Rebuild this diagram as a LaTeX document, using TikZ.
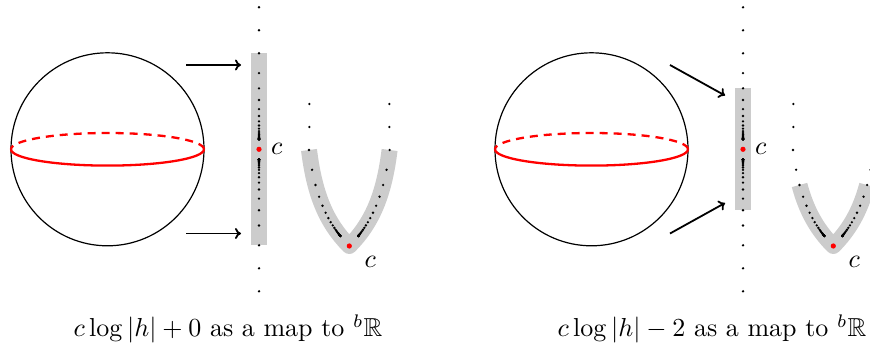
\documentclass[tikz,border=0pt]{standalone}
\usepackage{amssymb}
\usetikzlibrary{arrows.meta}
\tikzset{
  band/.style={line width=16pt, draw=black!20, line cap=butt, line join=round},
  sphere/.style={line width=1.2pt},
  equator/.style={draw=red, line width=2.3pt},
  backeq/.style={equator, dash pattern=on 8pt off 6pt},
  arr/.style={line width=1.8pt, -{To[length=6pt,width=11pt]}},
  lbl/.style={inner sep=0pt, scale=2.6},
}
\newcommand\drawpanel[7]{%
\begin{scope}[shift={(#1,0)}, name prefix=#7-]
  % sphere
  \draw[sphere] (107.5,149.3) circle[radius=96.5];
  \draw[equator] (204,149.3) arc[start angle=0, end angle=180, x radius=96.5, y radius=16.3];
  \draw[backeq] (204,149.3) arc[start angle=0, end angle=-180, x radius=96.5, y radius=16.3];
  % arrows
  \coordinate (a1s) at (186,65);
  \coordinate (a1e) at (241,#4);
  \coordinate (a2s) at (186,233.5);
  \coordinate (a2e) at (241,#5);
  \draw[arr] (a1s) -- (a1e);
  \draw[arr] (a2s) -- (a2e);
  % vertical line
  \fill[black!20] (251,{149.3-#2}) rectangle (267,{149.3+#2});
  \foreach \d in {142,119}{
    \fill (259,{149.3-\d}) circle[radius=1.3];
    \fill (259,{149.3+\d}) circle[radius=1.3];}
  \foreach \k in {0,...,30}{
    \pgfmathsetmacro\d{10+86*0.77^\k}
    \fill (259,{149.3-\d}) circle[radius=1.3];
    \fill (259,{149.3+\d}) circle[radius=1.3];}
  \fill[red] (259,149.3) circle[radius=2.6];
  \node[lbl, anchor=base west] (cv) at (270.5,154.5) {$c$};
  % V shape
  \draw[band] plot[domain=-#3:#3, samples=41, variable=\t]
     ({349.3+sign(\t)*46*(1-exp(-abs(\t)/46))},{246-abs(\t)});
  \foreach \d in {142,119}{
    \fill ({349.3-40},{246-\d}) circle[radius=1.3];
    \fill ({349.3+40},{246-\d}) circle[radius=1.3];}
  \foreach \k in {0,...,30}{
    \pgfmathsetmacro\d{10+86*0.77^\k}
    \pgfmathsetmacro\w{46*(1-exp(-\d/46))}
    \fill ({349.3-\w},{246-\d}) circle[radius=1.3];
    \fill ({349.3+\w},{246-\d}) circle[radius=1.3];}
  \fill[red] (349.3,246) circle[radius=2.6];
  \node[lbl, anchor=base west] (cV) at (364,267.5) {$c$};
  % caption
  \node[lbl, anchor=base] (cap) at (228,337) {#6};
\end{scope}}

\begin{document}
\begin{tikzpicture}[x=1pt, y=-1pt]
  \useasboundingbox (0,0) rectangle (870,347);
  \clip (0,0) rectangle (870,347);
  \drawpanel{0}{96}{96}{65}{233.5}{$c\log|h|+0$ as a map to ${}^b\mathbb{R}$}{L}
  \drawpanel{484}{61}{61}{95.5}{203}{$c\log|h|-2$ as a map to ${}^b\mathbb{R}$}{R}
\end{tikzpicture}
\end{document}
